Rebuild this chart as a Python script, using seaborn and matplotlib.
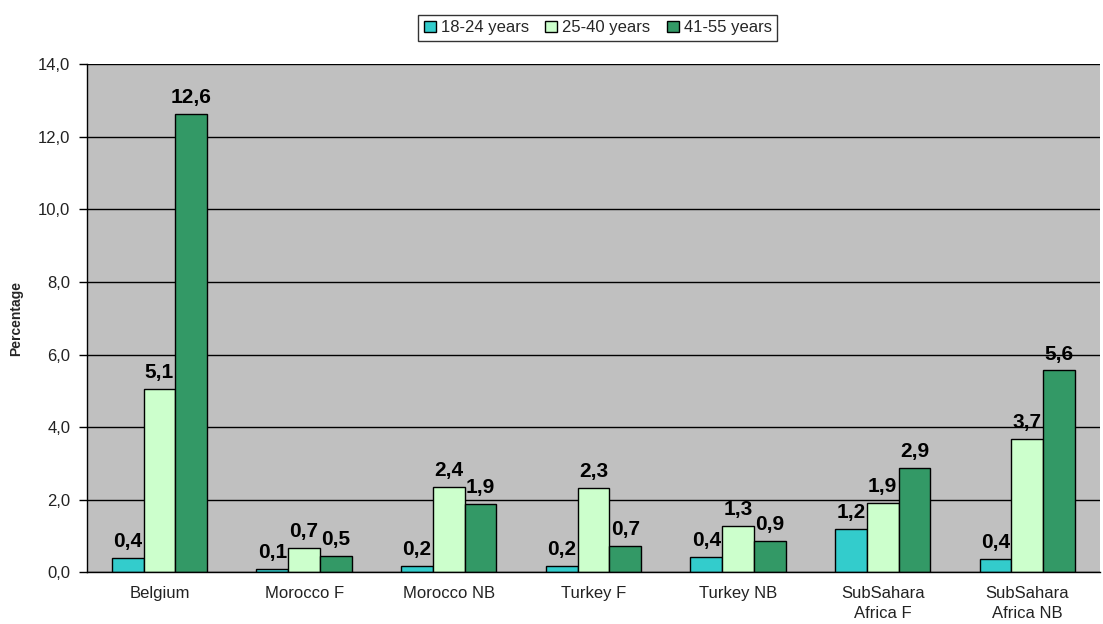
import pandas as pd
import matplotlib
matplotlib.use("Agg")
import matplotlib.pyplot as plt
import matplotlib.ticker as mticker
import seaborn as sns

# data
groups = ["Belgium", "Morocco F", "Morocco NB", "Turkey F", "Turkey NB",
          "SubSahara\nAfrica F", "SubSahara\nAfrica NB"]
age_18_24 = [0.39, 0.09, 0.17, 0.16, 0.42, 1.18, 0.36]
age_25_40 = [5.06, 0.66, 2.36, 2.33, 1.27, 1.90, 3.68]
age_41_55 = [12.64, 0.46, 1.87, 0.72, 0.86, 2.88, 5.56]
series_names = ["18-24 years", "25-40 years", "41-55 years"]
colors = ["#33CCCC", "#CCFFCC", "#339966"]

df = pd.DataFrame({
    "group": groups * 3,
    "age": [series_names[0]] * 7 + [series_names[1]] * 7 + [series_names[2]] * 7,
    "value": age_18_24 + age_25_40 + age_41_55,
})

sns.set_style("white")
plt.rcParams["font.family"] = ["Liberation Sans", "DejaVu Sans"]

fig = plt.figure(figsize=(11.03, 6.24), dpi=100)
ax = fig.add_axes([0.079, 0.083, 0.918, 0.814])
ax.set_facecolor("#C0C0C0")

sns.barplot(data=df, x="group", y="value", hue="age", palette=colors, saturation=1,
            width=0.66, edgecolor="black", linewidth=1, ax=ax, legend=True)

# value labels
for cont in ax.containers:
    ax.bar_label(cont, labels=[f"{v:.1f}".replace(".", ",") for v in cont.datavalues],
                 padding=5, fontsize=15, fontweight="bold", color="black")

ax.set_ylim(0, 14)
ax.set_xlim(-0.5, 6.5)
ax.yaxis.set_major_locator(mticker.MultipleLocator(2))
ax.yaxis.set_major_formatter(mticker.FuncFormatter(lambda v, p: f"{v:.1f}".replace(".", ",")))
ax.grid(axis="y", color="black", linewidth=1)
ax.set_axisbelow(True)

for s in ["top", "right"]:
    ax.spines[s].set_visible(False)
for s in ["left", "bottom"]:
    ax.spines[s].set_color("black")
    ax.spines[s].set_linewidth(1)

# Excel-style ticks between categories
ax.set_xticks([i + 0.5 for i in range(-1, 7)], minor=True)
ax.tick_params(axis="x", which="major", length=0, pad=10, labelsize=12, colors="#222222")
ax.tick_params(axis="x", which="minor", length=6, width=1, color="black", direction="out")
ax.tick_params(axis="y", length=6, width=1, color="black", direction="out", pad=6,
               labelsize=12, labelcolor="#222222", left=True)
for lbl in ax.get_xticklabels():
    lbl.set_linespacing(1.45)

ax.set_xlabel("")
ax.set_ylabel("Percentage", fontsize=10, fontweight="bold", labelpad=11)

leg = ax.legend(loc="upper center", bbox_to_anchor=(0.542, 0.99),
                bbox_transform=fig.transFigure, ncol=3, frameon=True,
                fancybox=False, edgecolor="black", fontsize=12,
                handlelength=0.7, handleheight=0.7, handletextpad=0.3,
                columnspacing=1.0, borderpad=0.35)
leg.get_frame().set_linewidth(1)
for h in leg.legend_handles:
    h.set_edgecolor("black")
    h.set_linewidth(1)

fig.savefig("out.png", dpi=100)
